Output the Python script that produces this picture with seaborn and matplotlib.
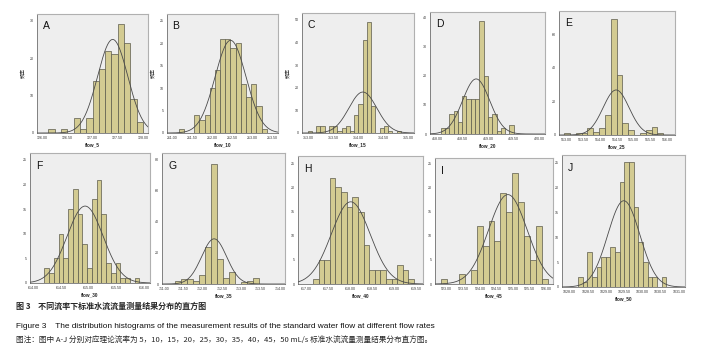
import numpy as np
import pandas as pd
import matplotlib
matplotlib.use('Agg')
import matplotlib.pyplot as plt
import seaborn as sns

sns.set_style('white')
plt.rcParams['font.family'] = ['Liberation Sans', 'Noto Sans CJK SC', 'DejaVu Sans']

# ---------------------------------------------------------------
# histogram data (counts per bin)
# ---------------------------------------------------------------
panel_letters = ['A', 'B', 'C', 'D', 'E', 'F', 'G', 'H', 'I', 'J']
flow_labels = ['flow_5', 'flow_10', 'flow_15', 'flow_20', 'flow_25',
               'flow_30', 'flow_35', 'flow_40', 'flow_45', 'flow_50']

counts_A = [1, 0, 1, 0, 4, 1, 4, 14, 17, 22, 21, 29, 24, 9, 3]
counts_B = [1, 0, 0, 4, 3, 4, 10, 14, 21, 21, 19, 20, 11, 8, 11, 6, 1]
counts_C = [1, 0, 3, 3, 0, 3, 3, 1, 2, 3, 1, 8, 13, 41, 49, 12, 0, 2, 3, 1, 0, 1]
counts_D = [2, 2, 7, 8, 4, 13, 12, 12, 12, 39, 20, 6, 7, 1, 2, 0, 3]
counts_E = [1, 0, 1, 1, 4, 2, 4, 12, 69, 36, 7, 3, 0, 1, 3, 5, 1]
counts_F = [3, 2, 5, 10, 5, 15, 19, 14, 8, 3, 17, 21, 14, 4, 2, 4, 1, 1, 0, 1]
counts_G = [2, 3, 3, 2, 6, 24, 77, 16, 4, 8, 0, 1, 2, 4]
counts_H = [1, 5, 5, 22, 20, 19, 16, 18, 15, 8, 3, 3, 3, 1, 1, 4, 3, 1]
counts_I = [1, 0, 0, 2, 0, 3, 12, 8, 13, 9, 19, 15, 23, 17, 10, 5, 12, 1]
counts_J = [2, 1, 7, 2, 4, 6, 6, 8, 7, 21, 25, 25, 16, 9, 5, 2, 2, 0, 2]
all_counts = [counts_A, counts_B, counts_C, counts_D, counts_E,
              counts_F, counts_G, counts_H, counts_I, counts_J]

# first bin edge and bin width for each panel
bin_start = [126.125, 211.15, 312.98, 418.065, 512.92,
             614.2, 711.276, 617.15, 522.82, 1028.23]
bin_width = [0.125, 0.13, 0.085, 0.0843, 0.174,
             0.086, 0.155, 0.127, 0.18, 0.1275]

# axis tick values
xticks_all = [
    [126.0, 126.5, 127.0, 127.5, 128.0],
    [211.0, 211.5, 212.0, 212.5, 213.0, 213.5],
    [313.0, 313.5, 314.0, 314.5, 315.0],
    [418.0, 418.5, 419.0, 419.5, 420.0],
    [513.0, 513.5, 514.0, 514.5, 515.0, 515.5, 516.0],
    [614.0, 614.5, 615.0, 615.5, 616.0],
    [711.0, 711.5, 712.0, 712.5, 713.0, 713.5, 714.0],
    [617.0, 617.5, 618.0, 618.5, 619.0, 619.5],
    [523.0, 523.5, 524.0, 524.5, 525.0, 525.5, 526.0],
    [1028.0, 1028.5, 1029.0, 1029.5, 1030.0, 1030.5, 1031.0],
]
xlims = [(125.90, 128.10), (210.86, 213.64), (312.867, 315.113), (417.856, 420.111),
         (512.77, 516.23), (613.94, 616.11), (710.948, 714.13), (616.81, 619.64),
         (522.65, 526.2), (1027.79, 1031.17)]
yticks_all = [[0, 10, 20, 30], [0, 5, 10, 15, 20, 25], [0, 10, 20, 30, 40, 50],
              [0, 10, 20, 30, 40], [0, 20, 40, 60], [0, 5, 10, 15, 20, 25],
              [0, 20, 40, 60, 80], [0, 5, 10, 15, 20, 25], [0, 5, 10, 15, 20, 25],
              [0, 5, 10, 15, 20, 25]]
ytops = [31.8, 26.5, 53, 42, 73.9, 26.4, 84.3, 26.5, 26.2, 26.5]

# panel boxes in pixels (left, top, right, bottom) of a 722x353 canvas
boxes = [(37, 14, 148, 133), (167, 14, 278, 133), (302, 13, 414, 133),
         (430, 12, 545, 134), (559, 11, 675, 135),
         (30, 153, 150, 283), (162, 153, 285, 284), (298, 156, 423, 284),
         (435, 158, 553, 284), (562, 155, 685, 287)]

bar_color = '#d3cb92'
W, H = 722, 353

fig = plt.figure(figsize=(W / 100, H / 100), dpi=100)

for i in range(10):
    l, t, r, b = boxes[i]
    ax = fig.add_axes([l / W, 1 - b / H, (r - l) / W, (b - t) / H])

    counts = np.array(all_counts[i], dtype=float)
    nb = len(counts)
    lo = bin_start[i]
    hi = bin_start[i] + nb * bin_width[i]
    centers = lo + bin_width[i] * (np.arange(nb) + 0.5)
    df = pd.DataFrame({'value': centers, 'n': counts})

    sns.histplot(data=df, x='value', weights='n', bins=nb, binrange=(lo, hi), ax=ax,
                 color=bar_color, edgecolor='#5b5a4c', linewidth=0.5, alpha=1)

    # normal curve fitted to the binned data
    n = counts.sum()
    mu = (centers * counts).sum() / n
    sd = np.sqrt(((centers - mu) ** 2 * counts).sum() / (n - 1))
    xs = np.linspace(xlims[i][0], xlims[i][1], 300)
    ys = n * bin_width[i] * np.exp(-0.5 * ((xs - mu) / sd) ** 2) / (sd * np.sqrt(2 * np.pi))
    ax.plot(xs, ys, color='#4a4a4a', lw=0.6)

    ax.set_facecolor('#eeeeee')
    ax.set_xlim(*xlims[i])
    ax.set_ylim(0, ytops[i])
    ax.set_xticks(xticks_all[i])
    ax.set_xticklabels(['%.2f' % v for v in xticks_all[i]])
    ax.set_yticks(yticks_all[i])
    ax.tick_params(labelsize=2.6, length=1.2, width=0.4, pad=1, colors='#333333')
    for s in ax.spines.values():
        s.set_color('#b0b0b0')
        s.set_linewidth(0.8)
    ax.spines['left'].set_color('#555555')
    ax.spines['bottom'].set_color('#555555')
    ax.spines['left'].set_linewidth(0.5)
    ax.spines['bottom'].set_linewidth(0.5)

    ax.set_xlabel(flow_labels[i], fontsize=3.4, fontweight='bold', labelpad=2)
    if i < 3:
        ax.set_ylabel('频率', fontsize=3.6, labelpad=3,
                      family=['Noto Sans CJK SC', 'DejaVu Sans'])
    else:
        ax.set_ylabel('')

    ax.text(0.05, 0.9, panel_letters[i], transform=ax.transAxes,
            fontsize=7.5, va='center', ha='left', color='#111111')

# captions
fig.text(16 / W, 1 - 306 / H, '图 3    不同流率下标准水流流量测量结果分布的直方图',
         fontsize=5.8, fontweight='bold', va='center',
         family=['Noto Sans CJK SC', 'DejaVu Sans'])
fig.text(16 / W, 1 - 326 / H,
         'Figure 3    The distribution histograms of the measurement results of the '
         'standard water flow at different flow rates',
         fontsize=5.95, va='center', color='#111111', family=['Liberation Sans'])
fig.text(16 / W, 1 - 341 / H,
         '图注：图中 A-J 分别对应理论流率为 5，10，15，20，25，30，35，40，45，50 mL/s '
         '标准水流流量测量结果分布直方图。',
         fontsize=5.5, va='center', family=['Noto Sans CJK SC', 'DejaVu Sans'])

plt.savefig('out.png', dpi=100)
